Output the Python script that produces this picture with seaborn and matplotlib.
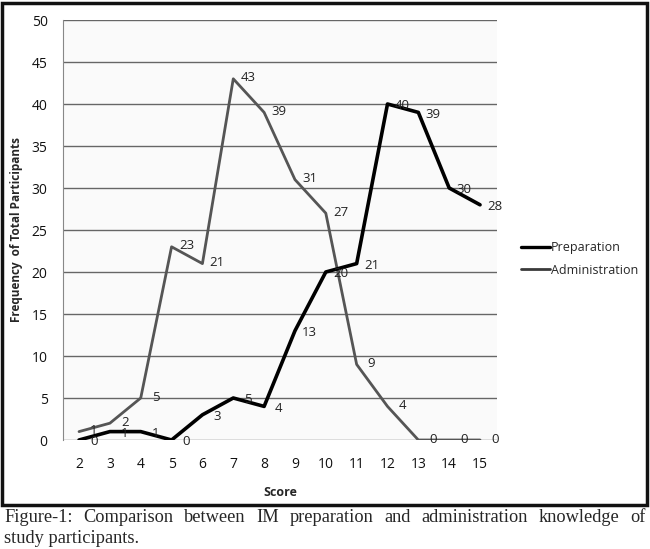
import matplotlib
matplotlib.use("Agg")
import matplotlib.pyplot as plt
import seaborn as sns
import pandas as pd
from matplotlib.patches import Rectangle
from matplotlib.lines import Line2D

scores = [2, 3, 4, 5, 6, 7, 8, 9, 10, 11, 12, 13, 14, 15]
preparation = [0, 1, 1, 0, 3, 5, 4, 13, 20, 21, 40, 39, 30, 28]
administration = [1, 2, 5, 23, 21, 43, 39, 31, 27, 9, 4, 0, 0, 0]
y_ticks = [0, 5, 10, 15, 20, 25, 30, 35, 40, 45, 50]

sns.set_theme(style="white")
plt.rcParams['font.family'] = ['Open Sans', 'DejaVu Sans']

fig = plt.figure(figsize=(6.5, 5.49), dpi=100)
fig.patch.set_facecolor("white")
ax = fig.add_axes([63/650, 1-440/549, (497-63)/650, (440-20)/549])
ax.set_facecolor("#fafafa")

df = pd.DataFrame({"Score": scores * 2,
                   "Value": preparation + administration,
                   "Series": ["Preparation"] * len(scores) + ["Administration"] * len(scores)})

sns.lineplot(data=df[df.Series == "Administration"], x="Score", y="Value", color="#555555",
             linewidth=2.0, ax=ax, legend=False, zorder=3)
sns.lineplot(data=df[df.Series == "Preparation"], x="Score", y="Value", color="#000000",
             linewidth=2.6, ax=ax, legend=False, zorder=4)

for x, v in zip(scores, preparation):
    ax.text(x + 0.48, v - 0.2, str(v), fontsize=9.5, color="#222222", ha="center", va="center", zorder=5)
for x, v in zip(scores, administration):
    ax.text(x + 0.48, v + 0.1, str(v), fontsize=9.5, color="#222222", ha="center", va="center", zorder=5)

ax.set_xlim(1.48, 15.55)
ax.set_ylim(0, 50)
ax.set_yticks(y_ticks)
ax.set_xticks(scores)
ax.yaxis.grid(True, color="#666666", linewidth=1.0)
ax.set_axisbelow(True)
for s in ["top", "right", "bottom"]:
    ax.spines[s].set_visible(False)
ax.spines["left"].set_color("#888888")
ax.spines["left"].set_linewidth(0.8)
ax.tick_params(axis="both", length=0, labelsize=10, colors="#111111")
ax.tick_params(axis="y", pad=11)
ax.tick_params(axis="x", pad=12)
ax.set_xlabel("Score", fontsize=9, fontweight="bold", labelpad=10)
ax.set_ylabel("Frequency  of Total Participants", fontsize=8.5, fontweight="bold", labelpad=6)

handles = [Line2D([], [], color="#000000", linewidth=2.4),
           Line2D([], [], color="#3a3a3a", linewidth=2.0)]
fig.legend(handles, ["Preparation", "Administration"], loc="center left",
           bbox_to_anchor=(510/650, 1-259/549), frameon=False, fontsize=9,
           handlelength=2.3, handletextpad=0.1, labelspacing=0.75)

# outer frame
fig.add_artist(Rectangle((2/650, 1-505/549), 645/650, 502/549, transform=fig.transFigure,
                         fill=False, edgecolor="#111111", linewidth=2.5))

# justified caption
line1 = "Figure-1: Comparison between IM preparation and administration knowledge of".split(" ")
fig.canvas.draw()
renderer = fig.canvas.get_renderer()
texts = []
for w in line1:
    t = fig.text(0, 1-522/549, w, fontsize=13.2, family="Liberation Serif", va="baseline")
    texts.append(t)
widths = [t.get_window_extent(renderer).width for t in texts]
left, right = 4, 646
gap = (right - left - sum(widths)) / (len(widths) - 1)
xpos = left
for t, wd in zip(texts, widths):
    t.set_x(xpos / 650)
    xpos += wd + gap
fig.text(4/650, 1-543/549, "study participants.", fontsize=13.2, family="Liberation Serif", va="baseline")

fig.savefig("out.png", dpi=100)
